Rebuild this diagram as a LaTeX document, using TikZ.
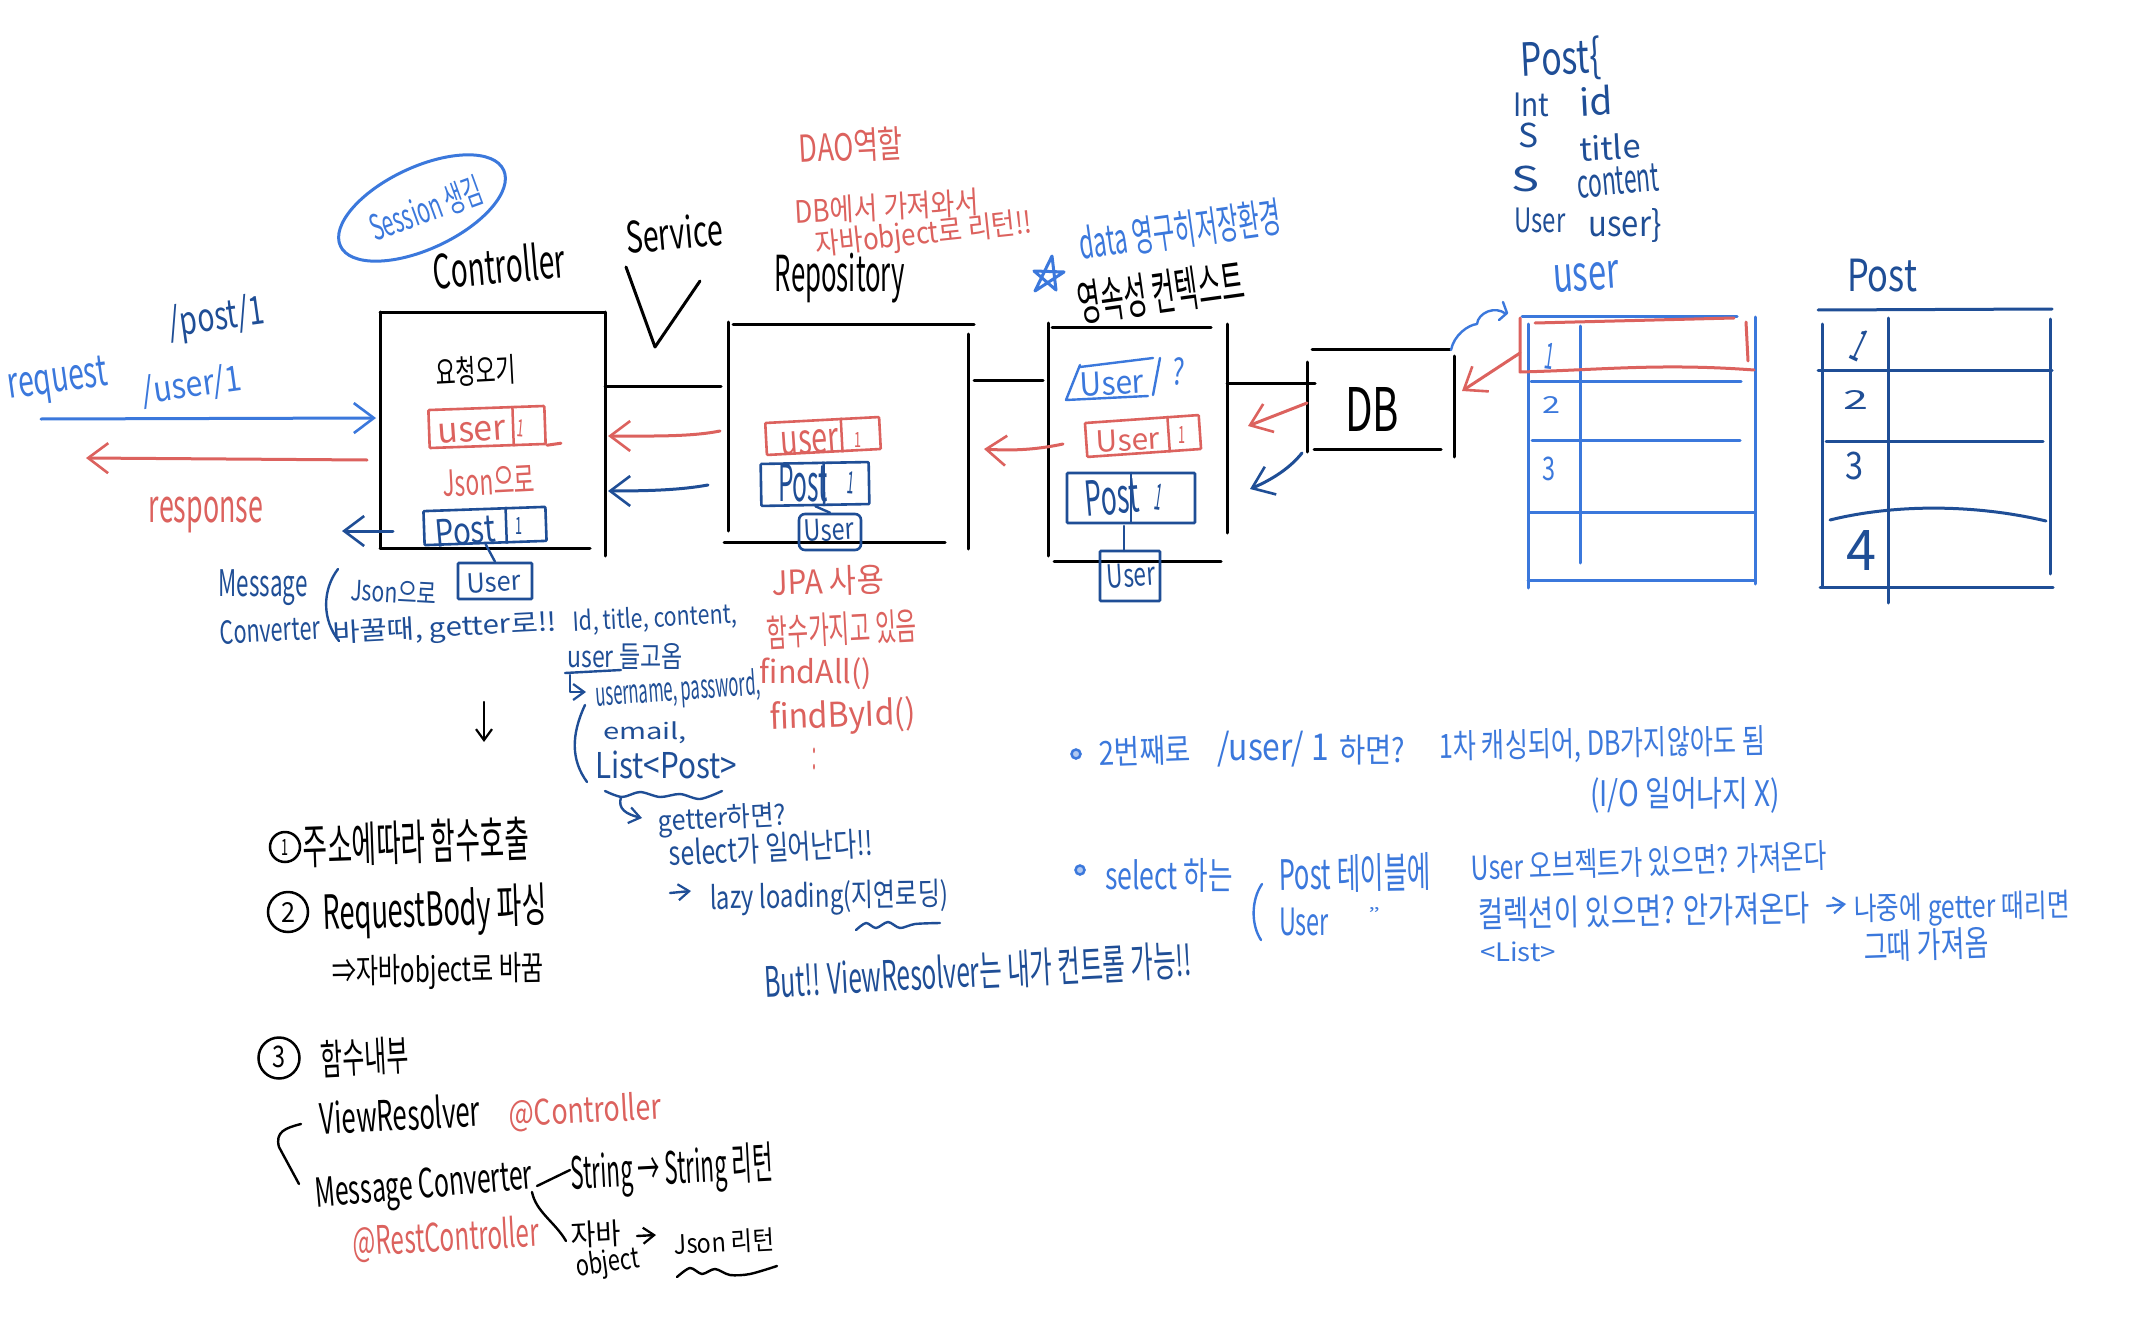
\documentclass[tikz,border=0pt]{standalone}
\usepackage{fontspec}
\usepackage{graphicx}
\setmainfont{Noto Sans CJK KR}
\usetikzlibrary{arrows.meta,calc,shapes.geometric,bending}
\definecolor{lb}{HTML}{3B78DC}
\definecolor{db}{HTML}{1F4E96}
\definecolor{rd}{HTML}{DC625E}
\definecolor{kk}{HTML}{000000}
\newcommand{\tx}[8]{\node[inner sep=0pt,rotate=#6,text=#7] (#1) at (#2,#3) {\resizebox*{#4pt}{#5pt}{#8}};}
\newcommand{\divd}[3]{\draw[#3,line width=2.5pt] ($(#1.north west)!#2!(#1.north east)$) -- ($(#1.south west)!#2!(#1.south east)$);}
\tikzset{
  pen/.style={line width=3pt,line cap=round,line join=round},
  thin pen/.style={line width=2.4pt,line cap=round,line join=round},
  hand/.style={-{Straight Barb[length=20pt,width=30pt,line width=2.6pt]}},
  handsm/.style={-{Straight Barb[length=11pt,width=16pt,line width=2.2pt]}},
  cell/.style={rectangle,draw,line width=2.6pt,inner sep=0pt,rounded corners=1pt},
}
\begin{document}
\begin{tikzpicture}[x=1pt,y=-1pt]
\useasboundingbox (0,0) rectangle (2139,1343);
\fill[white] (0,0) rectangle (2139,1343);

% session ellipse and titles
\node[ellipse,draw=lb,line width=3pt,inner sep=0pt,minimum width=180pt,minimum height=82pt,rotate=25] (sess) at (422,208) {};
\tx{sesst}{426}{209}{118}{32}{20}{lb}{Session 생김}
\tx{ctrlt}{499}{265}{132}{38}{5}{kk}{Controller}
\tx{servt}{674}{233}{97}{34}{5}{kk}{Service}
\draw[pen,kk] (626,267) -- (655,347) -- (700,281);

% Controller box
\draw[pen,kk] (380,312) -- (380,548);
\draw[pen,kk] (380,312) -- (605,312);
\draw[pen,kk] (380,548) -- (590,548);
\draw[pen,kk] (605,312) -- (605,556);
\coordinate (c1) at (605,386); \coordinate (c2) at (721,386);
\draw[pen,kk] (c1) -- (c2);
\tx{reqcall}{476}{371}{80}{30}{3}{kk}{요청오기}

\node[cell,draw=rd,minimum width=116pt,minimum height=38pt,rotate=2] (cuser) at (487,427) {};
\divd{cuser}{0.72}{rd}
\tx{cusert}{472}{432}{68}{20}{4}{rd}{user}
\tx{cuser1}{521}{428}{7}{17}{-5}{rd}{1}
\draw[pen,rd] (cuser.south east) -- ++(14,-2);
\tx{cjson}{489}{481}{92}{28}{3}{rd}{Json으로}
\node[cell,draw=db,minimum width=122pt,minimum height=34pt,rotate=2] (cpost) at (485,526) {};
\divd{cpost}{0.67}{db}
\tx{cpostt}{465}{531}{60}{28}{5}{db}{Post}
\tx{cpost1}{519}{526}{7}{17}{0}{db}{1}
\node[cell,draw=db,minimum width=74pt,minimum height=36pt] (cuserb) at (495,581) {};
\tx{cuserbt}{494}{582}{54}{20}{3}{db}{User}
\draw[thin pen,db] (cpost.south) -- (cuserb.north);

% request response
\coordinate (q1) at (41,419); \coordinate (q2) at (376,418);
\draw[pen,lb,hand] (q1) -- (q2);
\coordinate (r1) at (367,460); \coordinate (r2) at (86,458);
\draw[pen,rd,hand] (r1) -- (r2);
\coordinate (l1) at (393,531); \coordinate (l2) at (342,531);
\draw[pen,db,hand] (l1) -- (l2);
\tx{reqt}{58}{382}{100}{40}{8}{lb}{request}
\tx{usr1}{192}{386}{100}{34}{8}{lb}{/user/1}
\tx{pst1}{217}{319}{96}{40}{8}{db}{/post/1}
\tx{rest}{206}{515}{114}{36}{0}{rd}{response}

% message converter note
\tx{msgt}{263}{588}{89}{36}{0}{db}{Message}
\tx{convt}{270}{630}{100}{24}{3}{db}{Converter}
\draw[thin pen,db] (338,569) .. controls (322,590) and (322,620) .. (339,641);
\tx{mjson}{394}{592}{86}{22}{-3}{db}{Json으로}
\tx{mget}{445}{629}{224}{28}{3}{db}{바꿀때, getter로!!}
\tx{mid}{655}{619}{164}{26}{3}{db}{Id, title, content,}
\tx{muser}{625}{656}{115}{26}{0}{db}{user 들고옴}
\coordinate (u1) at (565,673); \coordinate (u2) at (621,670);
\draw[thin pen,db] (u1) -- (u2);
\coordinate (h1) at (570,675); \coordinate (h2) at (586,692);
\draw[thin pen,db,handsm] (h1) |- (h2);
\tx{muname}{678}{691}{165}{34}{4}{db}{username, password,}
\draw[thin pen,db] (585,705) .. controls (571,735) and (571,760) .. (587,782);
\tx{memail}{645}{733}{84}{22}{0}{db}{email,}
\tx{mlist}{666}{765}{142}{28}{0}{db}{List<Post>}
\draw[thin pen,db] plot[smooth] coordinates {(605,791) (622,797) (640,792) (660,797) (680,794) (700,799) (722,791)};
\coordinate (h3) at (621,797); \coordinate (h4) at (642,818);
\draw[thin pen,db,handsm] (h3) .. controls (617,810) and (628,815) .. (h4);
\tx{mgetter}{722}{820}{128}{30}{3}{db}{getter하면?}
\tx{msel}{771}{848}{204}{30}{3}{db}{select가 일어난다!!}
\coordinate (a1) at (670,893); \coordinate (a2) at (691,891);
\draw[thin pen,db,handsm] (a1) -- (a2);
\tx{mlazy}{829}{898}{238}{34}{1}{db}{lazy loading(지연로딩)}
\draw[thin pen,db] plot[smooth] coordinates {(856,930) (866,923) (876,928) (888,922) (900,928) (915,924) (940,923)};
\tx{mbut}{978}{971}{428}{38}{3}{db}{But!! ViewResolver는 내가 컨트롤 가능!!}

% Repository box
\tx{daot}{851}{146}{104}{34}{3}{rd}{DAO역할}
\tx{dbt}{887}{207}{184}{28}{3}{rd}{DB에서 가져와서}
\tx{jbt}{924}{235}{218}{32}{6}{rd}{자바object로 리턴!!}
\tx{repot}{840}{278}{130}{50}{0}{kk}{Repository}
\draw[pen,kk] (728,322) -- (728,531);
\draw[pen,kk] (733,324) -- (974,324);
\draw[pen,kk] (968,334) -- (968,549);
\draw[pen,kk] (724,542) -- (945,542);
\coordinate (c3) at (974,380); \coordinate (c4) at (1043,380);
\draw[pen,kk] (c3) -- (c4);
\coordinate (rr1) at (720,431); \coordinate (rr2) at (608,436);
\draw[pen,rd,hand] (rr1) .. controls (690,437) and (650,436) .. (rr2);
\coordinate (rb1) at (708,485); \coordinate (rb2) at (608,491);
\draw[pen,db,hand] (rb1) .. controls (680,490) and (650,491) .. (rb2);

\node[cell,draw=rd,minimum width=114pt,minimum height=32pt,rotate=3] (ruser) at (823,436) {};
\divd{ruser}{0.66}{rd}
\tx{ruser t}{810}{442}{58}{24}{4}{rd}{user}
\tx{ruser1}{858}{440}{7}{15}{0}{rd}{1}
\node[cell,draw=db,minimum width=108pt,minimum height=42pt,rotate=1] (rpost) at (815,484) {};
\divd{rpost}{0.58}{db}
\tx{rpostt}{803}{483}{50}{38}{0}{db}{Post}
\tx{rpost1}{851}{483}{7}{22}{-5}{db}{1}
\node[cell,draw=db,minimum width=62pt,minimum height=36pt,rounded corners=6pt] (ruserb) at (830,532) {};
\tx{ruserbt}{829}{530}{50}{22}{3}{db}{User}
\draw[thin pen,db] (rpost.south) -- (ruserb.north);
\tx{jpat}{828}{581}{112}{30}{2}{rd}{JPA 사용}
\tx{hamt}{842}{629}{150}{34}{3}{rd}{함수가지고 있음}
\tx{fat}{816}{674}{112}{32}{0}{rd}{findAll()}
\tx{fbt}{843}{717}{146}{36}{2}{rd}{findById()}
\tx{dott}{814}{759}{4}{22}{0}{rd}{:}

% persistence context box
\tx{datat}{1180}{230}{204}{38}{8}{lb}{data 영구히저장환경}
\draw[pen,lb] (1052,256) -- (1035,291) -- (1064,272) -- (1034,271) -- (1056,290) -- cycle;
\tx{pct}{1161}{292}{168}{44}{8}{kk}{영속성 컨텍스트}
\draw[pen,kk] (1048,323) -- (1048,556);
\draw[pen,kk] (1052,327) -- (1211,327);
\draw[pen,kk] (1227,324) -- (1227,533);
\draw[pen,kk] (1054,561) -- (1221,561);
\coordinate (c5) at (1227,383); \coordinate (c6) at (1315,383);
\draw[pen,kk] (c5) -- (c6);
\draw[thin pen,lb] (1080,365) -- (1066,400) -- (1148,396);
\draw[thin pen,lb] (1080,367) -- (1153,358);
\draw[thin pen,lb] (1160,358) -- (1153,395);
\tx{pusert}{1112}{383}{64}{24}{3}{lb}{User}
\tx{pq}{1179}{372}{12}{28}{-5}{lb}{?}
\node[cell,draw=rd,minimum width=114pt,minimum height=34pt,rotate=4] (puser) at (1143,436) {};
\divd{puser}{0.72}{rd}
\tx{puser t}{1128}{440}{64}{22}{3}{rd}{User}
\tx{puser1}{1182}{435}{7}{17}{0}{rd}{1}
\node[cell,draw=db,minimum width=128pt,minimum height=50pt] (ppost) at (1131,498) {};
\divd{ppost}{0.50}{db}
\tx{ppostt}{1112}{497}{54}{36}{5}{db}{Post}
\tx{ppost1}{1159}{497}{7}{26}{-8}{db}{1}
\node[cell,draw=db,minimum width=60pt,minimum height=50pt] (puserb) at (1130,576) {};
\tx{puserbt}{1131}{575}{48}{24}{4}{db}{User}
\draw[thin pen,db] (1124,526) -- (1124,551);
\coordinate (pr1) at (1063,444); \coordinate (pr2) at (984,449);
\draw[pen,rd,hand] (pr1) .. controls (1035,450) and (1010,451) .. (pr2);

% DB
\tx{dbbox}{1372}{409}{54}{44}{0}{kk}{DB}
\draw[pen,kk] (1307,362) -- (1307,452);
\draw[pen,kk] (1312,349) -- (1450,349);
\draw[pen,kk] (1314,449) -- (1441,449);
\draw[pen,kk] (1454,356) -- (1454,457);
\coordinate (d1) at (1307,403); \coordinate (d2) at (1248,426);
\draw[pen,rd,hand] (d1) -- (d2);
\coordinate (d3) at (1302,453); \coordinate (d4) at (1250,489);
\draw[pen,db,hand] (d3) .. controls (1290,468) and (1272,480) .. (d4);
\draw[thin pen,lb] (1451,350) .. controls (1454,335) and (1468,325) .. (1477,324) .. controls (1478,313) and (1495,305) .. (1506,314);
\draw[thin pen,lb] (1503,302) -- (1507,313) -- (1499,320);

% Post class
\tx{pcls}{1561}{60}{80}{44}{3}{db}{Post\{}
\tx{fint}{1531}{105}{36}{24}{0}{db}{Int}
\tx{fid}{1596}{101}{33}{30}{3}{db}{id}
\tx{fs1}{1528}{135}{20}{25}{0}{db}{S}
\tx{ftitle}{1610}{147}{61}{26}{3}{db}{title}
\tx{fs2}{1525}{179}{28}{26}{0}{db}{S}
\tx{fcont}{1618}{181}{82}{28}{5}{db}{content}
\tx{fuser}{1540}{220}{51}{25}{0}{db}{User}
\tx{fuser2}{1625}{226}{73}{34}{0}{db}{user\}}

% user table
\tx{utitle}{1586}{277}{66}{28}{4}{lb}{user}
\draw[pen,lb] (1522,316) -- (1737,316);
\draw[pen,lb] (1528,324) -- (1528,588);
\draw[pen,lb] (1755,317) -- (1755,584);
\draw[pen,lb] (1580,326) -- (1580,563);
\draw[pen,lb] (1531,381) -- (1741,381);
\draw[pen,lb] (1532,440) -- (1740,440);
\draw[pen,lb] (1530,512) -- (1754,512);
\draw[pen,lb] (1528,580) -- (1755,580);
\tx{u1c}{1550}{356}{9}{26}{-8}{lb}{1}
\tx{u2c}{1551}{405}{18}{17}{0}{lb}{2}
\tx{u3c}{1549}{469}{13}{24}{0}{lb}{3}
\draw[pen,rd] (1535,323) -- (1734,318);
\draw[pen,rd] (1520,318) -- (1520,372) .. controls (1600,370) and (1660,363) .. (1754,370);
\draw[pen,rd] (1746,322) -- (1748,361);
\coordinate (ua1) at (1520,353); \coordinate (ua2) at (1462,391);
\draw[pen,rd,hand] (ua1) -- (ua2);

% post table
\tx{ptitle}{1882}{276}{70}{33}{0}{db}{Post}
\draw[pen,db] (1818,310) -- (2052,309);
\draw[pen,db] (1822,324) -- (1822,587);
\draw[pen,db] (1888,318) -- (1888,603);
\draw[pen,db] (2050,319) -- (2050,574);
\draw[pen,db] (1818,370) -- (2052,370);
\draw[pen,db] (1826,441) -- (2043,441);
\draw[pen,db] (1830,520) .. controls (1890,505) and (1970,503) .. (2046,521);
\draw[pen,db] (1820,587) -- (2053,587);
\tx{p1c}{1860}{346}{12}{32}{-25}{db}{1}
\tx{p2c}{1856}{400}{25}{19}{0}{db}{2}
\tx{p3c}{1854}{466}{18}{28}{0}{db}{3}
\tx{p4c}{1861}{550}{30}{40}{0}{db}{4}

% bottom right notes
\node[circle,draw=lb,fill=lb!40,line width=2.5pt,inner sep=0pt,minimum size=9pt] (n1) at (1076,754) {};
\tx{n1a}{1145}{751}{92}{30}{2}{lb}{2번째로}
\tx{n1b}{1273}{749}{112}{36}{0}{lb}{/user/ 1}
\tx{n1c}{1372}{750}{66}{30}{0}{lb}{하면?}
\tx{n1d}{1602}{745}{326}{34}{1}{lb}{1차 캐싱되어, DB가지않아도 됨}
\tx{n1e}{1685}{795}{190}{36}{0}{lb}{(I/O 일어나지 X)}
\node[circle,draw=lb,fill=lb!40,line width=2.5pt,inner sep=0pt,minimum size=9pt] (n2) at (1080,870) {};
\tx{n2a}{1169}{875}{128}{34}{0}{lb}{select 하는}
\draw[thin pen,lb] (1262,884) .. controls (1251,900) and (1251,925) .. (1261,940);
\tx{n2b}{1355}{873}{152}{38}{1}{lb}{Post 테이블에}
\tx{n2c}{1304}{922}{50}{28}{0}{lb}{User}
\tx{n2d}{1374}{914}{12}{13}{0}{lb}{"}
\tx{n2e}{1649}{862}{356}{30}{2}{lb}{User 오브젝트가 있으면? 가져온다}
\tx{n2f}{1644}{911}{332}{32}{1}{lb}{컬렉션이 있으면? 안가져온다}
\coordinate (n3) at (1827,906); \coordinate (n4) at (1846,904);
\draw[thin pen,lb,handsm] (n3) -- (n4);
\tx{n2g}{1962}{909}{216}{34}{1}{lb}{나중에 getter 때리면}
\tx{n2h}{1518}{952}{76}{20}{0}{lb}{<List>}
\tx{n2i}{1926}{945}{125}{32}{2}{lb}{그때 가져옴}

% bottom left
\node[circle,draw=kk,line width=2.5pt,inner sep=0pt,minimum size=30pt] (o1) at (285,847) {};
\tx{o1n}{285}{847}{7}{16}{0}{kk}{1}
\tx{o1t}{416}{842}{226}{44}{2}{kk}{주소에따라 함수호출}
\node[circle,draw=kk,line width=2.5pt,inner sep=0pt,minimum size=40pt] (o2) at (288,912) {};
\tx{o2n}{288}{912}{14}{20}{0}{kk}{2}
\tx{o2t}{435}{912}{224}{50}{2}{kk}{RequestBody 파싱}
\tx{o2u}{438}{972}{212}{36}{1}{kk}{⇒자바object로 바꿈}
\node[circle,draw=kk,line width=2.5pt,inner sep=0pt,minimum size=41pt] (o3) at (279,1058) {};
\tx{o3n}{279}{1057}{13}{22}{0}{kk}{3}
\tx{o3t}{365}{1057}{88}{38}{3}{kk}{함수내부}
\coordinate (da1) at (484,702); \coordinate (da2) at (484,742);
\draw[thin pen,kk,handsm] (da1) -- (da2);
\tx{vr}{400}{1114}{160}{34}{3}{kk}{ViewResolver}
\tx{at1}{585}{1112}{152}{34}{3}{rd}{@Controller}
\draw[thin pen,kk] (301,1124) .. controls (285,1128) and (275,1132) .. (279,1147) -- (299,1184);
\tx{mc}{424}{1188}{218}{40}{5}{kk}{Message Converter}
\coordinate (m1) at (537,1186); \coordinate (m2) at (570,1170);
\draw[thin pen,kk] (m1) -- (m2);
\tx{st}{672}{1171}{202}{48}{3}{kk}{String → String 리턴}
\coordinate (m3) at (532,1192); \coordinate (m4) at (566,1241);
\draw[thin pen,kk] (m3) .. controls (536,1212) and (555,1222) .. (m4);
\tx{jb}{596}{1234}{50}{27}{3}{kk}{자바}
\tx{ob}{608}{1264}{64}{30}{8}{kk}{object}
\coordinate (m5) at (637,1236); \coordinate (m6) at (656,1235);
\draw[thin pen,kk,handsm] (m5) -- (m6);
\tx{jr}{724}{1242}{100}{24}{3}{kk}{Json 리턴}
\draw[thin pen,kk] plot[smooth] coordinates {(677,1277) (690,1268) (702,1274) (715,1269) (730,1275) (750,1274) (777,1266)};
\tx{rest2}{446}{1239}{186}{38}{3}{rd}{@RestController}
\end{tikzpicture}
\end{document}
